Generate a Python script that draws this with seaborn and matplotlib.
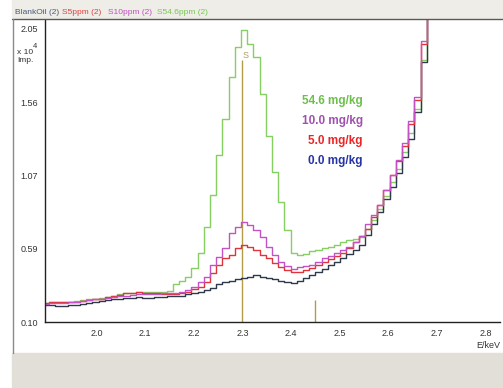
import numpy as np
import pandas as pd
import matplotlib
matplotlib.use("Agg")
import matplotlib.pyplot as plt
from matplotlib.patches import Rectangle
from matplotlib.lines import Line2D
from matplotlib.ticker import FixedLocator, MultipleLocator
import seaborn as sns

# spectrum channels: first channel edge and channel width in keV
e_start = 1.8896
e_width = 0.01274

# counts (x10^4 Imp.) per channel
blank = [0.215, 0.21, 0.205, 0.205, 0.21, 0.215, 0.22, 0.225, 0.23, 0.24, 0.245,
         0.25, 0.255, 0.26, 0.26, 0.265, 0.26, 0.26, 0.265, 0.265, 0.27, 0.27,
         0.275, 0.285, 0.29, 0.30, 0.31, 0.325, 0.35, 0.365, 0.37, 0.385, 0.395,
         0.40, 0.41, 0.40, 0.39, 0.385, 0.375, 0.365, 0.36,
         0.375, 0.395, 0.41, 0.43, 0.455, 0.48, 0.50, 0.525, 0.55, 0.58, 0.615,
         0.68, 0.75, 0.83, 0.92, 1.00, 1.09, 1.20, 1.32, 1.50, 1.83, 3.0]
s5 = [0.225, 0.23, 0.235, 0.235, 0.23, 0.235, 0.24, 0.245, 0.25, 0.255, 0.265,
      0.27, 0.28, 0.29, 0.295, 0.30, 0.295, 0.29, 0.29, 0.285, 0.285, 0.285,
      0.29, 0.30, 0.317, 0.335, 0.368, 0.424, 0.48, 0.524, 0.546, 0.59, 0.612,
      0.60, 0.579, 0.546, 0.524, 0.49, 0.468, 0.445, 0.43,
      0.435, 0.445, 0.46, 0.48, 0.50, 0.52, 0.54, 0.56, 0.59, 0.63, 0.67,
      0.72, 0.80, 0.88, 0.98, 1.08, 1.17, 1.27, 1.42, 1.58, 1.95, 3.0]
s10 = [0.22, 0.225, 0.225, 0.225, 0.23, 0.235, 0.24, 0.245, 0.25, 0.255, 0.26,
       0.265, 0.27, 0.275, 0.28, 0.285, 0.285, 0.285, 0.285, 0.29, 0.29, 0.295,
       0.30, 0.31, 0.335, 0.368, 0.40, 0.48, 0.535, 0.59, 0.69, 0.734, 0.767,
       0.745, 0.71, 0.668, 0.60, 0.546, 0.50, 0.475, 0.45,
       0.465, 0.47, 0.48, 0.50, 0.524, 0.54, 0.557, 0.579, 0.60, 0.634, 0.67,
       0.75, 0.81, 0.88, 0.98, 1.08, 1.18, 1.29, 1.44, 1.60, 1.97, 3.0]
s54 = [0.225, 0.23, 0.23, 0.235, 0.235, 0.24, 0.245, 0.25, 0.255, 0.26, 0.265,
       0.275, 0.285, 0.29, 0.295, 0.30, 0.30, 0.30, 0.30, 0.30, 0.305, 0.35,
       0.37, 0.40, 0.46, 0.56, 0.734, 0.945, 1.21, 1.45, 1.73, 1.93, 2.04,
       1.95, 1.86, 1.62, 1.34, 1.10, 0.90, 0.71, 0.56,
       0.545, 0.55, 0.575, 0.58, 0.59, 0.60, 0.61, 0.63, 0.645, 0.65, 0.665,
       0.72, 0.78, 0.85, 0.94, 1.03, 1.12, 1.23, 1.36, 1.52, 1.84, 3.0]

series_names = ["BlankOil (2)", "S5ppm (2)", "S10ppm (2)", "S54.6ppm (2)"]
series_values = [blank, s5, s10, s54]
series_colors = ["#2e3a4c", "#e0343a", "#c452c4", "#86cf62"]
header_colors = ["#4a5878", "#e04040", "#c050c0", "#78c850"]

conc_labels = ["54.6 mg/kg", "10.0 mg/kg", "5.0 mg/kg", "0.0 mg/kg"]
conc_colors = ["#6cc04a", "#a050b0", "#ee2424", "#2634a8"]
conc_y = [1.570, 1.437, 1.304, 1.171]
conc_x = 2.548

ytick_vals = [0.10, 0.5875, 1.075, 1.5625, 2.05]
ytick_labels = ["0.10", "0.59", "1.07", "1.56", "2.05"]
xtick_vals = [2.0, 2.1, 2.2, 2.3, 2.4, 2.5, 2.6, 2.7, 2.8]
xtick_labels = ["2.0", "2.1", "2.2", "2.3", "2.4", "2.5", "2.6", "2.7", "2.8"]

s_line_x = [2.300, 2.4496]
s_line_top = [1.84, 0.245]

# long table: steps-post needs one extra closing edge per series
rows = []
for name, vals in zip(series_names, series_values):
    edges = e_start + e_width * np.arange(len(vals) + 1)
    ys = list(vals) + [vals[-1]]
    for e, v in zip(edges, ys):
        rows.append((name, e, v))
df = pd.DataFrame(rows, columns=["sample", "energy", "imp"])

sns.set_style("white")
plt.rcParams["font.family"] = ["Liberation Sans", "DejaVu Sans"]

W, H = 503, 388
fig = plt.figure(figsize=(W / 100, H / 100), dpi=100)
fig.patch.set_facecolor("white")


def fx(px):
    return px / W


def fy(py):
    return 1 - py / H


# window chrome: header strip, bottom strip, frame lines
fig.patches.append(Rectangle((fx(12), fy(18)), fx(W - 12), 18 / H,
                             transform=fig.transFigure, color="#eeede8", zorder=0))
fig.patches.append(Rectangle((fx(12), 0), fx(W - 12), (H - 353) / H,
                             transform=fig.transFigure, color="#e2dfd9", zorder=0))
fig.lines.append(Line2D([fx(12), fx(W)], [fy(18.5), fy(18.5)],
                        transform=fig.transFigure, color="#5a5a5a", lw=1))
fig.lines.append(Line2D([fx(12.5), fx(12.5)], [fy(18.5), fy(353)],
                        transform=fig.transFigure, color="#8a8a8a", lw=1))

ax = fig.add_axes([fx(45), fy(322), fx(500) - fx(45), (322 - 19) / H])
ax.set_facecolor("none")

palette = dict(zip(series_names, series_colors))
sns.lineplot(data=df, x="energy", y="imp", hue="sample",
             hue_order=["S54.6ppm (2)", "BlankOil (2)", "S5ppm (2)", "S10ppm (2)"],
             palette=palette, estimator=None, sort=False, drawstyle="steps-post",
             lw=1.0, legend=False, ax=ax)

ax.vlines(s_line_x, 0.10, s_line_top, color="#b39c48", lw=1.0, zorder=1)
ax.text(2.306, 1.875, "S", color="#b09a68", fontsize=6.5, ha="center", va="center")

for lab, col, yv in zip(conc_labels, conc_colors, conc_y):
    ax.text(conc_x, yv, lab, color=col, fontsize=8.5, fontweight="bold",
            ha="right", va="center")

ax.set_xlim(1.894, 2.830)
ax.set_ylim(0.10, 2.116)
ax.set_xlabel("")
ax.set_ylabel("")

ax.yaxis.set_major_locator(FixedLocator(ytick_vals))
ax.set_yticklabels(ytick_labels)
ax.yaxis.set_minor_locator(MultipleLocator(0.0975))
ax.xaxis.set_major_locator(FixedLocator(xtick_vals))
ax.set_xticklabels(xtick_labels)
ax.xaxis.set_minor_locator(MultipleLocator(0.02))

ax.tick_params(axis="y", which="both", direction="out", length=4, width=0.8,
               color="#333333", labelsize=6.5, labelcolor="#333333", pad=1)
ax.tick_params(axis="x", which="major", direction="inout", length=6, width=0.8,
               color="#333333", labelsize=6.5, labelcolor="#333333", pad=2)
ax.tick_params(axis="x", which="minor", direction="inout", length=4, width=0.8,
               color="#333333")

for side in ["top", "right"]:
    ax.spines[side].set_visible(False)
for side in ["left", "bottom"]:
    ax.spines[side].set_color("#222222")
    ax.spines[side].set_linewidth(1.0)

# axis captions
fig.text(fx(17), fy(53), "x 10", fontsize=6, color="#333333", va="center")
fig.text(fx(33), fy(47), "4", fontsize=5.5, color="#333333", va="center")
fig.text(fx(17), fy(61), "Imp.", fontsize=6, color="#333333", va="center")
fig.text(fx(500), fy(346), "E/keV", fontsize=6.5, color="#333333",
         ha="right", va="center")

# header with sample names
header_x = [15, 62, 108, 157]
for name, col, px in zip(series_names, header_colors, header_x):
    fig.text(fx(px), fy(12), name, fontsize=6, color=col, va="center")

fig.savefig("out.png", dpi=100)
